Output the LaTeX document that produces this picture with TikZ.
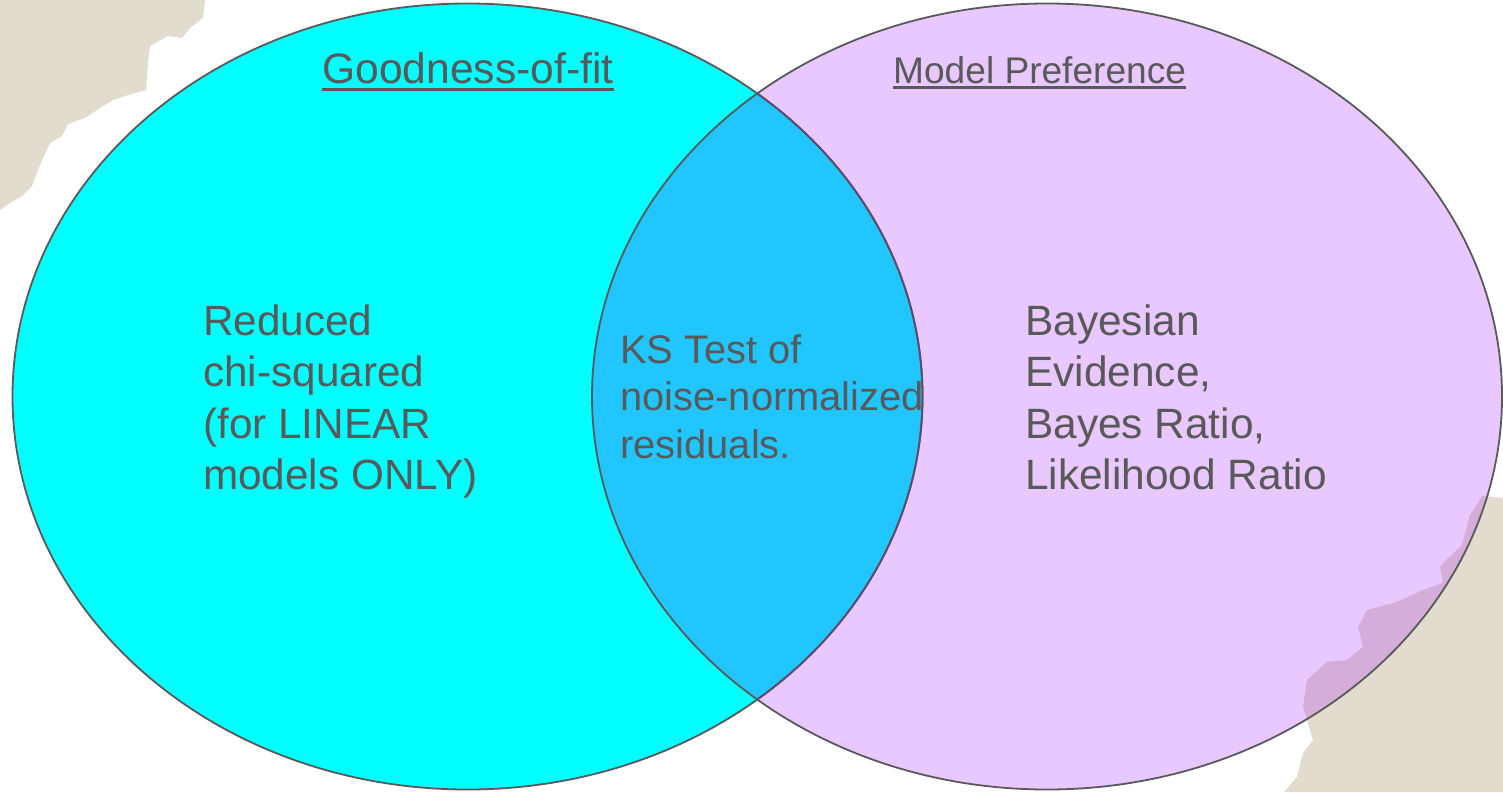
\documentclass[tikz,border=0pt]{standalone}
\usepackage{fontspec}
\setmainfont{Liberation Sans}
\definecolor{tgray}{HTML}{595959}
\definecolor{cyanfill}{HTML}{00FFFF}
\definecolor{lavfill}{HTML}{E8C8FF}
\definecolor{midfill}{HTML}{22C6FF}
\definecolor{paper}{HTML}{E2DCCF}
\definecolor{paperlav}{HTML}{D4AED8}
\definecolor{lineunder}{HTML}{5E4A6E}
\begin{document}
\begin{tikzpicture}[x=1pt,y=-1pt,
  outline/.style={draw=tgray, line width=1.8pt},
  body/.style={text=tgray, inner sep=0pt, align=left, anchor=base west},
  title/.style={text=tgray, inner sep=0pt, anchor=base west},
  uline/.style={draw=tgray, line width=3pt}]
\useasboundingbox (0,0) rectangle (1503,792);
\coordinate (cL) at (467.5,396.5);
\coordinate (cR) at (1047,396.5);
% paper texture blobs
\fill[paper] (0,0) -- (205,0) -- (203,18) -- (190,28) -- (182,38) -- (168,36) -- (150,46) -- (148,62) -- (146,90) -- (128,95) -- (113,100) -- (100,108) -- (85,118) -- (68,124) -- (62,136) -- (50,143) -- (44,156) -- (38,170) -- (32,186) -- (22,196) -- (10,203) -- (0,210) -- cycle;
\path[save path=\blobR] (1503,498) -- (1482,496) -- (1470,515) -- (1462,545) -- (1444,562) -- (1440,567) -- (1443,583) -- (1423,590) -- (1397,602) -- (1367,610) -- (1358,627) -- (1363,647) -- (1347,660) -- (1327,662) -- (1307,680) -- (1303,707) -- (1308,723) -- (1313,740) -- (1303,753) -- (1297,777) -- (1284,792) -- (1503,792) -- cycle;
\fill[paper, use path=\blobR];
% ellipses
\fill[cyanfill] (cL) ellipse [x radius=455pt, y radius=393pt];
\fill[lavfill] (cR) ellipse [x radius=455pt, y radius=393pt];
\begin{scope}
  \clip (cR) ellipse [x radius=455pt, y radius=393pt];
  \fill[paperlav, use path=\blobR];
  \fill[midfill] (cL) ellipse [x radius=455pt, y radius=393pt];
\end{scope}
\draw[outline] (cL) ellipse [x radius=455pt, y radius=393pt];
\begin{scope}
  \clip (cR) ellipse [x radius=455pt, y radius=393pt];
  \draw[outline, draw=lineunder] (cL) ellipse [x radius=455pt, y radius=393pt];
\end{scope}
\draw[outline] (cR) ellipse [x radius=455pt, y radius=393pt];
% titles
\node[title, font=\fontsize{42.6}{50}\selectfont] (gof) at (322,83) {Goodness-of-fit};
\draw[uline] ([yshift=-6.5pt]gof.base west) -- ([yshift=-6.5pt]gof.base east);
\node[title, font=\fontsize{37.1}{44}\selectfont] (mp) at (893,83) {Model Preference};
\draw[uline] ([yshift=-4.5pt]mp.base west) -- ([yshift=-4.5pt]mp.base east);
% bodies (base anchor = baseline of the last line)
\node[body, font=\fontsize{42.3}{51.5}\selectfont] (red) at (203,489.5) {Reduced\\chi-squared\\(for LINEAR\\models ONLY)};
\node[body, font=\fontsize{39.9}{47.5}\selectfont] (ks) at (620,458) {KS Test of\\noise-normalized\\residuals.};
\node[body, font=\fontsize{42.4}{51.5}\selectfont] (bay) at (1025,489.5) {Bayesian\\Evidence,\\Bayes Ratio,\\Likelihood Ratio};
\end{tikzpicture}
\end{document}
